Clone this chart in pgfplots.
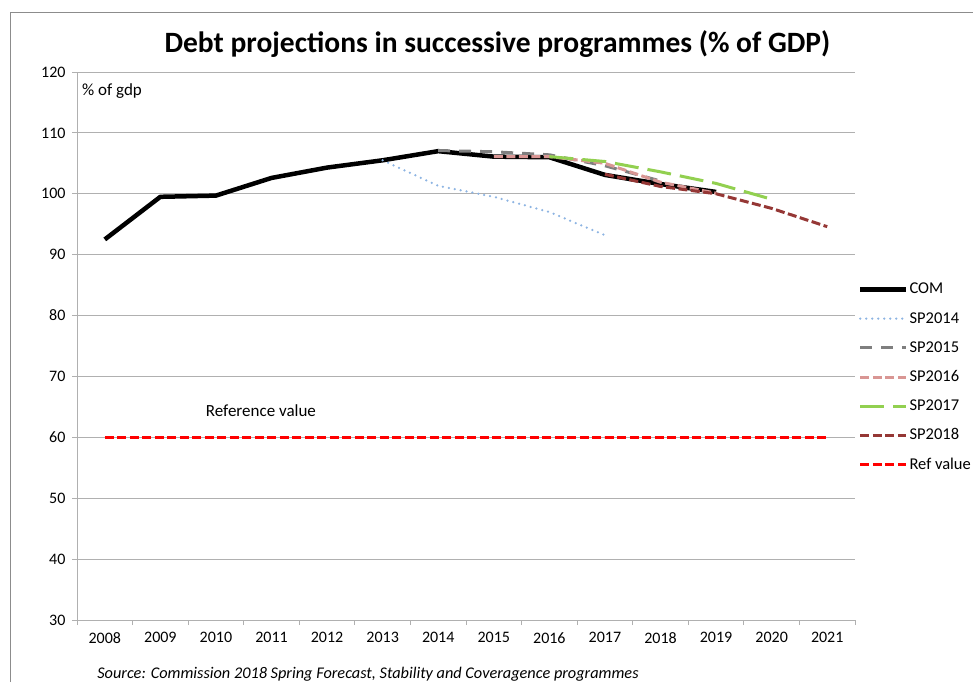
\documentclass[border=0pt]{standalone}
\usepackage{pgfplots}
\pgfplotsset{compat=1.18}
\usepackage{fontspec}
\setmainfont{Carlito}
\definecolor{gridc}{HTML}{B0B0B0}
\definecolor{sp14}{HTML}{8DB4E2}
\definecolor{sp15}{HTML}{7F7F7F}
\definecolor{sp16}{HTML}{D99694}
\definecolor{sp17}{HTML}{92D050}
\definecolor{sp18}{HTML}{953735}
\definecolor{refc}{HTML}{FF0000}
\definecolor{framec}{HTML}{8C8C8C}
\begin{document}
\begin{tikzpicture}
\useasboundingbox (0pt,0pt) rectangle (973pt,682pt);
\draw[framec, line width=0.9pt] (10pt,0pt) -- (10pt,670pt) -- (973pt,670pt);
\node[font=\fontsize{29.5}{34}\selectfont\bfseries] at (497.5pt,638pt) {Debt projections in successive programmes (\% of GDP)};
\node[font=\fontsize{16.3}{19}\selectfont\itshape, anchor=base] at (368pt,4pt) {Source: Commission 2018 Spring Forecast, Stability and Coveragence programmes};
\begin{axis}[
  at={(77pt,62pt)}, anchor=south west,
  scale only axis, width=778pt, height=548pt,
  xmin=-0.5, xmax=13.5, ymin=30, ymax=120,
  xtick={0,...,13},
  xticklabels={2008,2009,2010,2011,2012,2013,2014,2015,2016,2017,2018,2019,2020,2021},
  minor xtick={-0.5,0.5,...,13.5},
  ytick={30,40,...,120},
  xtick pos=bottom, ytick pos=left, tick align=outside,
  major tick length=5pt, minor tick length=5pt,
  major x tick style={draw=none},
  minor x tick style={gridc, line width=0.8pt},
  major y tick style={gridc, line width=0.8pt},
  ymajorgrids, grid style={gridc, line width=0.8pt},
  axis x line*=bottom, axis y line*=left,
  axis line style={gridc, line width=0.8pt},
  /pgf/number format/assume math mode=true,
  ticklabel style={font=\fontsize{16}{19}\selectfont},
  yticklabel style={xshift=-3pt},
  xticklabel style={yshift=-4pt},
  legend style={at={(1.0039,0.4434)}, anchor=west, draw=none, fill=none,
    inner sep=0pt, outer sep=0pt, row sep=12.2pt,
    font=\fontsize{16.5}{19}\selectfont,
    nodes={inner sep=1pt, text height=12pt, text depth=3pt}},
  legend cell align=left,
  legend image code/.code={\draw[#1] (0pt,0pt) -- (46pt,0pt);},
  every axis plot/.append style={line join=round},
  clip=false,
]
\addplot[black, line width=4.5pt] coordinates {
 (0,92.5) (1,99.5) (2,99.7) (3,102.6) (4,104.3) (5,105.5) (6,107.0) (7,106.1) (8,106.0) (9,103.1) (10,101.6) (11,100.3)};
\addlegendentry{COM}
\addplot[sp14, line width=2.5pt, line cap=round, dash pattern=on 0pt off 6pt] coordinates {
 (5,105.5) (6,101.3) (7,99.5) (8,97.0) (9,93.2)};
\addlegendentry{SP2014}
\addplot[sp15, line width=3pt, dash pattern=on 12pt off 9pt] coordinates {
 (6,107.1) (7,106.9) (8,106.4) (9,104.6) (10,102.1)};
\addlegendentry{SP2015}
\addplot[sp16, line width=3pt, dash pattern=on 9pt off 3.5pt] coordinates {
 (7,106.1) (8,106.1) (9,105.0) (10,101.9) (11,100.1)};
\addlegendentry{SP2016}
\addplot[sp17, line width=3pt, dash pattern=on 24pt off 9pt] coordinates {
 (8,106.1) (9,105.3) (10,103.6) (11,101.7) (12,99.1)};
\addlegendentry{SP2017}
\addplot[sp18, line width=3pt, dash pattern=on 9pt off 3.5pt] coordinates {
 (9,103.2) (10,101.2) (11,100.0) (12,97.6) (13,94.6)};
\addlegendentry{SP2018}
\addplot[refc, line width=3pt, dash pattern=on 9pt off 3.5pt] coordinates {
 (0,60) (1,60) (2,60) (3,60) (4,60) (5,60) (6,60) (7,60) (8,60) (9,60) (10,60) (11,60) (12,60) (13,60)};
\addlegendentry{Ref value}
\node[anchor=west, inner sep=0pt, font=\fontsize{17}{20}\selectfont] at (rel axis cs:0.0064,0.9653) {\% of gdp};
\node[inner sep=0pt, font=\fontsize{17}{20}\selectfont] at (axis cs:2.81,64.33) {Reference value};
\end{axis}
\end{tikzpicture}
\end{document}
